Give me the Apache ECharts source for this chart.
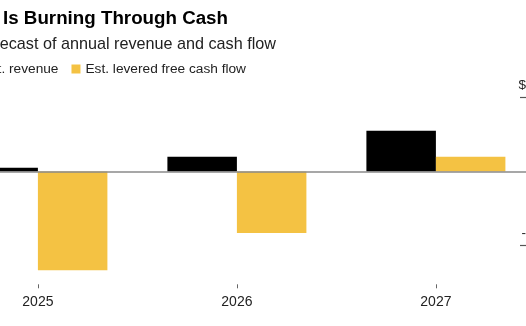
<!DOCTYPE html>
<html>
<head>
<meta charset="utf-8">
<script src="https://cdn.jsdelivr.net/npm/echarts@6/dist/echarts.min.js"></script>
<style>
  html, body { margin: 0; padding: 0; width: 526px; height: 326px; overflow: hidden; background: #fff; }
  #chart { position: absolute; left: -100px; top: 0; width: 640px; height: 326px; }
</style>
</head>
<body>
<div id="chart"></div>
<script>
// Annual figures, in billions of dollars
const years = ['2025', '2026', '2027'];
const revenue = [0.05, 0.2, 0.55];
const freeCashFlow = [-1.33, -0.83, 0.2];

// Right-hand value axis: tick positions and their labels
const yTickValues = [-1, 1];
const yTickLabels = ['-1B', '$1B'];

const FONT = '"Liberation Sans", Arial, Helvetica, sans-serif';
const BLACK = '#000000';
const YELLOW = '#f4c243';

const chart = echarts.init(document.getElementById('chart'), null, { renderer: 'canvas' });

chart.setOption({
  backgroundColor: '#ffffff',
  animation: false,
  textStyle: { fontFamily: FONT },
  title: [
    {
      text: 'Is Burning Through Cash',
      right: 312,
      top: 9,
      padding: 0,
      textStyle: { fontFamily: FONT, fontSize: 18.75, fontWeight: 'bold', color: '#000' }
    },
    {
      text: 'Forecast of annual revenue and cash flow',
      right: 264,
      top: 37,
      padding: 0,
      textStyle: { fontFamily: FONT, fontSize: 16.2, fontWeight: 'normal', color: '#222' }
    }
  ],
  legend: {
    right: 294,
    top: 62,
    padding: 0,
    itemGap: 13,
    itemWidth: 9,
    itemHeight: 9,
    icon: 'rect',
    selectedMode: false,
    textStyle: { fontFamily: FONT, fontSize: 13.7, color: '#222' },
    data: ['Est. revenue', 'Est. levered free cash flow']
  },
  grid: {
    left: 38.4,
    right: 4.6,
    top: 60.2,
    bottom: 41.7,
    containLabel: false,
    outerBoundsMode: 'none'
  },
  xAxis: {
    type: 'category',
    data: years,
    boundaryGap: true,
    axisLine: { show: false, onZero: false },
    axisTick: { show: true, alignWithLabel: true, length: 4, lineStyle: { color: '#666', width: 1 } },
    axisLabel: { margin: 11, fontFamily: FONT, fontSize: 14, color: '#222' }
  },
  yAxis: {
    type: 'value',
    position: 'right',
    offset: -15.4,
    min: -1.52,
    max: 1.5,
    axisLine: { show: false },
    splitLine: { show: false },
    axisTick: {
      show: true,
      inside: false,
      length: 20,
      customValues: yTickValues,
      lineStyle: { color: '#555', width: 1.2 }
    },
    axisLabel: {
      show: true,
      customValues: yTickValues,
      margin: 22.5,
      align: 'right',
      verticalAlign: 'bottom',
      lineHeight: 24,
      fontFamily: FONT,
      fontSize: 13.5,
      color: '#222',
      formatter: function (v) {
        const i = yTickValues.indexOf(v);
        return i >= 0 ? yTickLabels[i] : '';
      }
    }
  },
  series: [
    {
      name: 'Est. revenue',
      type: 'bar',
      data: revenue,
      barWidth: 69.5,
      barGap: '0%',
      itemStyle: { color: BLACK },
      z: 3,
      markLine: {
        silent: true,
        symbol: 'none',
        label: { show: false },
        lineStyle: { color: '#8a8a8a', width: 1.5, type: 'solid' },
        data: [{ yAxis: 0 }]
      }
    },
    {
      name: 'Est. levered free cash flow',
      type: 'bar',
      data: freeCashFlow,
      barWidth: 69.5,
      barGap: '0%',
      itemStyle: { color: YELLOW },
      z: 3
    }
  ]
});
</script>
</body>
</html>
